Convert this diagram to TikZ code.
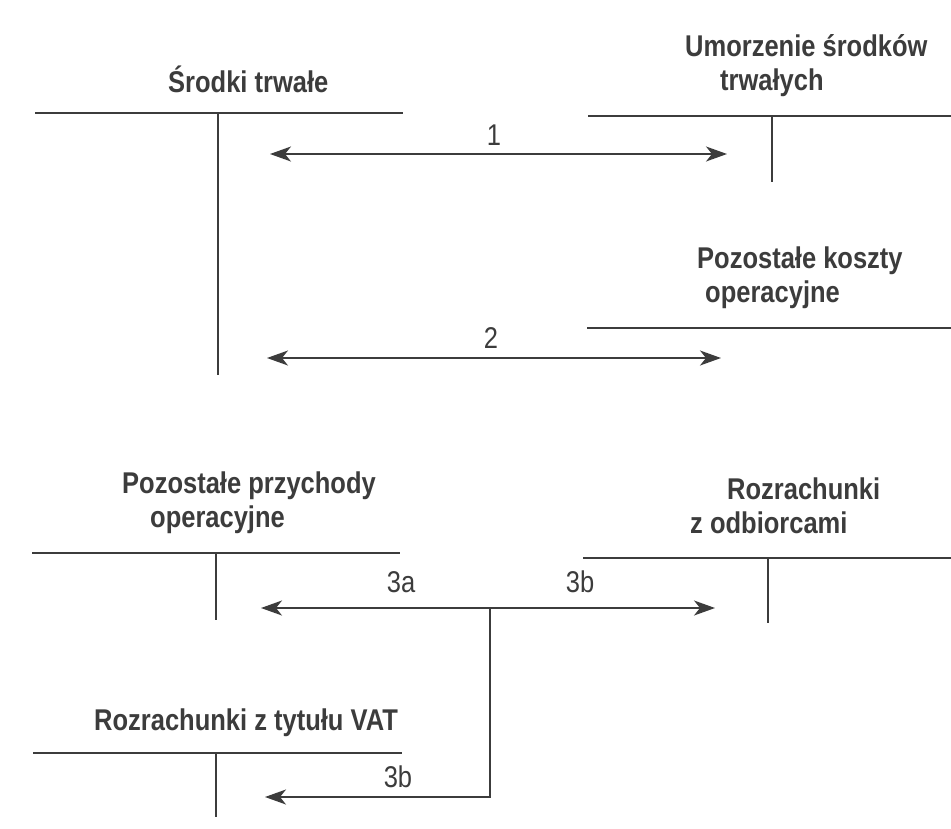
\documentclass[tikz,border=0pt]{standalone}
\usepackage{fontspec}
\setmainfont{Liberation Sans}[FakeStretch=0.85]
\usetikzlibrary{arrows.meta,calc,positioning}
\definecolor{ink}{HTML}{3C3C3C}

\begin{document}
\begin{tikzpicture}[x=1pt,y=-1pt,>={Stealth[length=21pt,width=15pt,inset=6pt]}]
	\tikzset{
		konto/.style={draw=ink,line width=1.6pt},
		strz/.style={draw=ink,line width=1.6pt},
		tytul/.style={text=ink,inner sep=0pt,align=left,anchor=base west,
			font=\bfseries\fontsize{30}{34}\selectfont},
		nr/.style={text=ink,inner sep=0pt,anchor=base,font=\fontsize{30}{32}\selectfont},
	}
	\fill[white] (0,0) rectangle (951,828);
	\useasboundingbox (0,0) rectangle (951,828);
	%
	% konta
	\node[tytul] (st) at (168,92) {Środki trwałe};
	\coordinate (stL) at (35,113);
	\coordinate (stR) at (403,113);
	\coordinate (stD) at (218,375);
	\draw[konto] (stL) -- (stR) (stD |- stL) -- (stD);
	%
	\node[tytul] (um) at (685,90) {Umorzenie środków\\\hspace*{35pt}trwałych};
	\coordinate (umL) at (588,116);
	\coordinate (umR) at (951,116);
	\coordinate (umD) at (772,182);
	\draw[konto] (umL) -- (umR) (umD |- umL) -- (umD);
	%
	\node[tytul] (pk) at (697,302) {Pozostałe koszty\\\hspace*{8pt}operacyjne};
	\coordinate (pkL) at (587,328);
	\coordinate (pkR) at (951,328);
	\draw[konto] (pkL) -- (pkR);
	%
	\node[tytul] (pp) at (122,527) {Pozostałe przychody\\\hspace*{28pt}operacyjne};
	\coordinate (ppL) at (32,553);
	\coordinate (ppR) at (400,553);
	\coordinate (ppD) at (216,620);
	\draw[konto] (ppL) -- (ppR) (ppD |- ppL) -- (ppD);
	%
	\node[tytul] (ro) at (690,533) {\hspace*{37pt}Rozrachunki\\z odbiorcami};
	\coordinate (roL) at (583,558);
	\coordinate (roR) at (951,558);
	\coordinate (roD) at (768,623);
	\draw[konto] (roL) -- (roR) (roD |- roL) -- (roD);
	%
	\node[tytul] (vat) at (94,730) {Rozrachunki z tytułu VAT};
	\coordinate (vatL) at (33,753);
	\coordinate (vatR) at (402,753);
	\coordinate (vatD) at (216,817);
	\draw[konto] (vatL) -- (vatR) (vatD |- vatL) -- (vatD);
	%
	% operacje
	\coordinate (a1) at (270,154);
	\coordinate (b1) at (727,154);
	\draw[strz,<->] (a1) -- (b1);
	\node[nr] (n1) at (494,145) {1};
	%
	\coordinate (a2) at (267,358);
	\coordinate (b2) at (721,358);
	\draw[strz,<->] (a2) -- (b2);
	\node[nr] (n2) at (491,348) {2};
	%
	\coordinate (r3) at (490,608);
	\coordinate (a3) at (261,608);
	\coordinate (b3) at (715,608);
	\coordinate (c3) at (265,797);
	\draw[strz,->] (r3) -- (a3);
	\draw[strz,->] (r3) -- (b3);
	\draw[strz,->] (r3) |- (c3);
	\node[nr] (n3a) at (401,592) {3a};
	\node[nr] (n3b) at (580,592) {3b};
	\node[nr] (n3c) at (398,787) {3b};
	%\draw[strz] (r3) -- (r3 |- c3);
\end{tikzpicture}
\end{document}
